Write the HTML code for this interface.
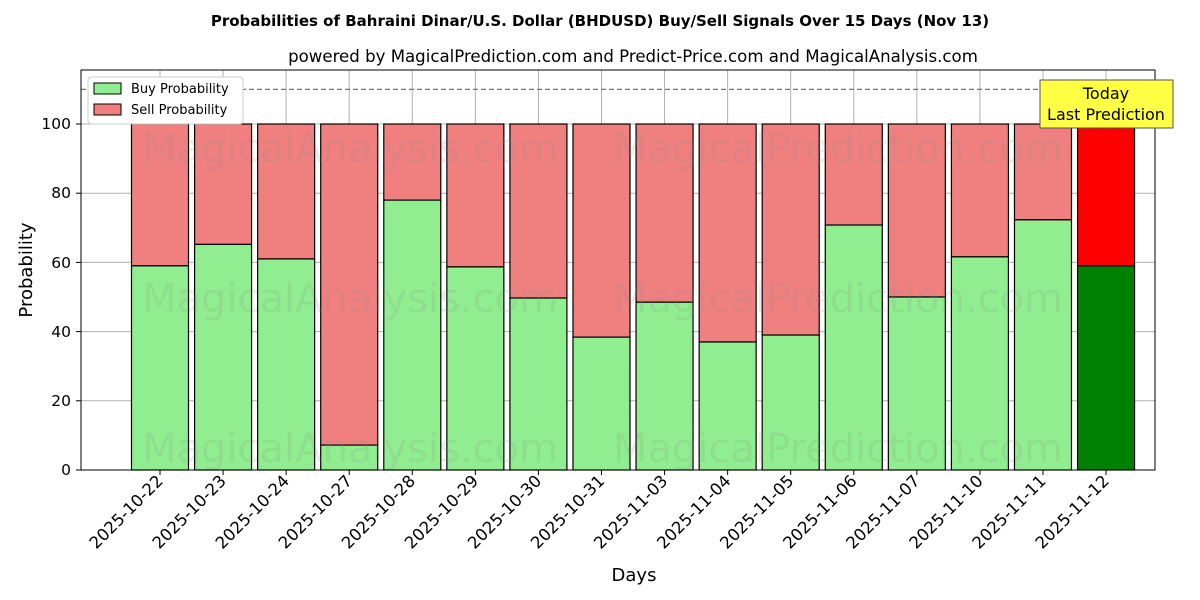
<!DOCTYPE html>
<html><head><meta charset="utf-8"><style>body{margin:0;background:#fff}svg{display:block}</style></head><body>
<svg width="1200" height="600" xmlns="http://www.w3.org/2000/svg" font-family="DejaVu Sans, Liberation Sans, sans-serif">
<rect width="1200" height="600" fill="#fff"/>
<text x="600" y="26" text-anchor="middle" font-size="15" font-weight="bold">Probabilities of Bahraini Dinar/U.S. Dollar (BHDUSD) Buy/Sell Signals Over 15 Days (Nov 13)</text>
<text x="633" y="62" text-anchor="middle" font-size="16.6">powered by MagicalPrediction.com and Predict-Price.com and MagicalAnalysis.com</text>
<g id="grid" stroke="#b0b0b0" stroke-width="1">
<line x1="81" x2="1155" y1="470" y2="470"/><line x1="81" x2="1155" y1="400.8" y2="400.8"/><line x1="81" x2="1155" y1="331.6" y2="331.6"/><line x1="81" x2="1155" y1="262.4" y2="262.4"/><line x1="81" x2="1155" y1="193.2" y2="193.2"/><line x1="81" x2="1155" y1="124" y2="124"/>
</g>
<g id="bars" stroke="#000" stroke-width="1.2"></g>
<line x1="81" x2="1155" y1="89.4" y2="89.4" stroke="#777" stroke-width="1.2" stroke-dasharray="5,3"/>
<g font-size="40" fill="#888" opacity="0.15" text-anchor="middle">
<text x="350" y="162">MagicalAnalysis.com</text><text x="838" y="162">MagicalPrediction.com</text>
<text x="350" y="312">MagicalAnalysis.com</text><text x="838" y="312">MagicalPrediction.com</text>
<text x="350" y="462">MagicalAnalysis.com</text><text x="838" y="462">MagicalPrediction.com</text>
</g>
<rect x="81" y="70" width="1074" height="400" fill="none" stroke="#000" stroke-width="1"/>
<g font-size="15.5" text-anchor="end">
<text x="71" y="475">0</text><text x="71" y="406">20</text><text x="71" y="337">40</text><text x="71" y="268">60</text><text x="71" y="198">80</text><text x="71" y="129">100</text>
</g>
<g stroke="#000"><line x1="76" x2="81" y1="470" y2="470"/><line x1="76" x2="81" y1="400.8" y2="400.8"/><line x1="76" x2="81" y1="331.6" y2="331.6"/><line x1="76" x2="81" y1="262.4" y2="262.4"/><line x1="76" x2="81" y1="193.2" y2="193.2"/><line x1="76" x2="81" y1="124" y2="124"/></g>
<text x="32" y="270" font-size="18" text-anchor="middle" transform="rotate(-90 32 270)">Probability</text>
<text x="634" y="581" font-size="18" text-anchor="middle">Days</text>
<g id="xl" font-size="16.5" text-anchor="end"></g>
<rect x="1040" y="80" width="133" height="48" fill="#ffff44" stroke="#555" stroke-width="1"/>
<text x="1106" y="99" font-size="16" text-anchor="middle">Today</text>
<text x="1106" y="120" font-size="16" text-anchor="middle">Last Prediction</text>
<rect x="88" y="77" width="155" height="47" fill="#fff" stroke="#ccc" rx="3"/>
<rect x="94" y="83" width="27" height="11" fill="#90ee90" stroke="#000"/>
<text x="131" y="93" font-size="13">Buy Probability</text>
<rect x="94" y="104" width="27" height="11" fill="#f08080" stroke="#000"/>
<text x="131" y="114" font-size="13">Sell Probability</text>
</svg>
<script>
const b=[59,65.2,61,7.2,78,58.7,49.7,38.4,48.5,37,39,70.8,50,61.6,72.3,59];
const d=["2025-10-22","2025-10-23","2025-10-24","2025-10-27","2025-10-28","2025-10-29","2025-10-30","2025-10-31","2025-11-03","2025-11-04","2025-11-05","2025-11-06","2025-11-07","2025-11-10","2025-11-11","2025-11-12"];
const ns="http://www.w3.org/2000/svg";
const g=document.getElementById('bars'),xl=document.getElementById('xl'),gr=document.getElementById('grid');
function el(t,a,p){const e=document.createElementNS(ns,t);for(const k in a)e.setAttribute(k,a[k]);p.appendChild(e);return e;}
b.forEach((v,i)=>{const c=160+i*63.07,x=c-28.5,yb=470-v*3.46,last=i==15;
el('line',{x1:c,x2:c,y1:70,y2:470},gr);
el('rect',{x:x,y:124,width:57,height:yb-124,fill:last?'#ff0000':'#f08080'},g);
el('rect',{x:x,y:yb,width:57,height:470-yb,fill:last?'#008000':'#90ee90'},g);
el('line',{x1:c,x2:c,y1:470,y2:475,stroke:'#000'},gr.parentNode);
const t=el('text',{x:c+4,y:482,transform:`rotate(-45 ${c+4} 482)`},xl);t.textContent=d[i];});
</script>
</body></html>
